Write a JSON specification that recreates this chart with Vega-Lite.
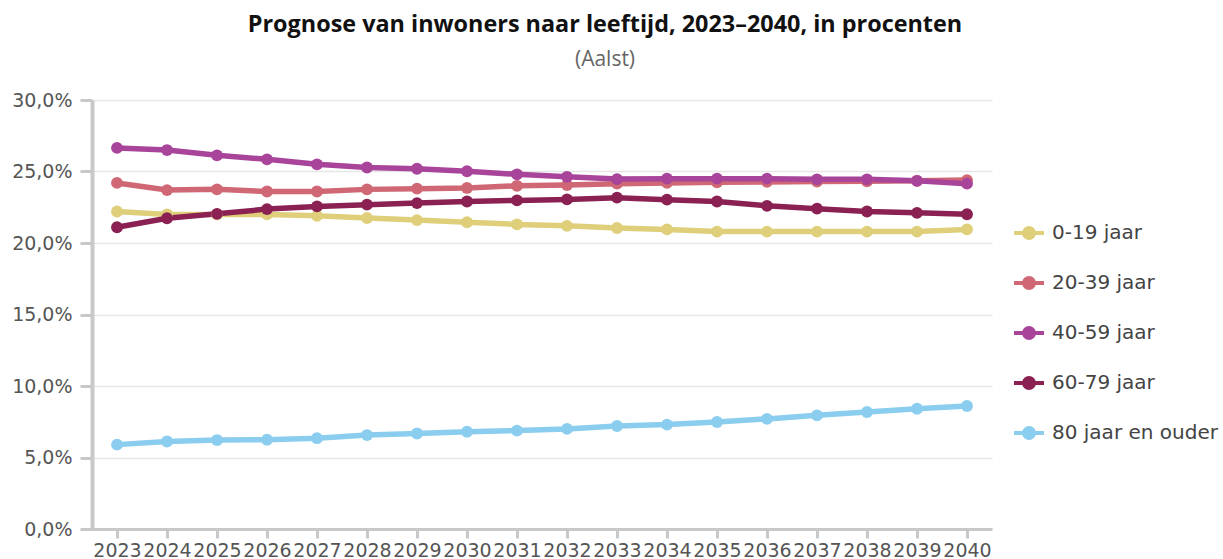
{
  "$schema": "https://vega.github.io/schema/vega-lite/v6.json",
  "width": 900,
  "height": 429,
  "autosize": {"type": "none"},
  "padding": {"left": 92, "top": 100, "right": 231, "bottom": 30},
  "background": "white",
  "title": {
    "text": "Prognose van inwoners naar leeftijd, 2023–2040, in procenten",
    "subtitle": "(Aalst)",
    "anchor": "middle",
    "dx": 63,
    "offset": 20,
    "font": "Open Sans",
    "fontSize": 23.4,
    "fontWeight": "bold",
    "color": "#111111",
    "subtitleFont": "Open Sans",
    "subtitleFontSize": 21,
    "subtitleColor": "#666666",
    "subtitlePadding": 12
  },
  "config": {
    "view": {"stroke": null},
    "axis": {"labelFont": "DejaVu Sans", "labelColor": "#555555", "titleFont": "DejaVu Sans"},
    "legend": {"labelFont": "DejaVu Sans"}
  },
  "data": {
    "values": [
      {"year": "2023", "group": "0-19 jaar", "value": 22.2},
      {"year": "2024", "group": "0-19 jaar", "value": 22.0},
      {"year": "2025", "group": "0-19 jaar", "value": 22.0},
      {"year": "2026", "group": "0-19 jaar", "value": 22.0},
      {"year": "2027", "group": "0-19 jaar", "value": 21.9},
      {"year": "2028", "group": "0-19 jaar", "value": 21.75},
      {"year": "2029", "group": "0-19 jaar", "value": 21.6},
      {"year": "2030", "group": "0-19 jaar", "value": 21.45},
      {"year": "2031", "group": "0-19 jaar", "value": 21.3},
      {"year": "2032", "group": "0-19 jaar", "value": 21.2},
      {"year": "2033", "group": "0-19 jaar", "value": 21.05},
      {"year": "2034", "group": "0-19 jaar", "value": 20.95},
      {"year": "2035", "group": "0-19 jaar", "value": 20.8},
      {"year": "2036", "group": "0-19 jaar", "value": 20.8},
      {"year": "2037", "group": "0-19 jaar", "value": 20.8},
      {"year": "2038", "group": "0-19 jaar", "value": 20.8},
      {"year": "2039", "group": "0-19 jaar", "value": 20.8},
      {"year": "2040", "group": "0-19 jaar", "value": 20.95},
      {"year": "2023", "group": "20-39 jaar", "value": 24.2},
      {"year": "2024", "group": "20-39 jaar", "value": 23.7},
      {"year": "2025", "group": "20-39 jaar", "value": 23.75},
      {"year": "2026", "group": "20-39 jaar", "value": 23.6},
      {"year": "2027", "group": "20-39 jaar", "value": 23.6},
      {"year": "2028", "group": "20-39 jaar", "value": 23.75},
      {"year": "2029", "group": "20-39 jaar", "value": 23.8},
      {"year": "2030", "group": "20-39 jaar", "value": 23.85},
      {"year": "2031", "group": "20-39 jaar", "value": 24.0},
      {"year": "2032", "group": "20-39 jaar", "value": 24.05},
      {"year": "2033", "group": "20-39 jaar", "value": 24.15},
      {"year": "2034", "group": "20-39 jaar", "value": 24.2},
      {"year": "2035", "group": "20-39 jaar", "value": 24.25},
      {"year": "2036", "group": "20-39 jaar", "value": 24.27},
      {"year": "2037", "group": "20-39 jaar", "value": 24.3},
      {"year": "2038", "group": "20-39 jaar", "value": 24.32},
      {"year": "2039", "group": "20-39 jaar", "value": 24.35},
      {"year": "2040", "group": "20-39 jaar", "value": 24.4},
      {"year": "2023", "group": "40-59 jaar", "value": 26.65},
      {"year": "2024", "group": "40-59 jaar", "value": 26.5},
      {"year": "2025", "group": "40-59 jaar", "value": 26.13},
      {"year": "2026", "group": "40-59 jaar", "value": 25.85},
      {"year": "2027", "group": "40-59 jaar", "value": 25.5},
      {"year": "2028", "group": "40-59 jaar", "value": 25.28},
      {"year": "2029", "group": "40-59 jaar", "value": 25.19},
      {"year": "2030", "group": "40-59 jaar", "value": 25.02},
      {"year": "2031", "group": "40-59 jaar", "value": 24.8},
      {"year": "2032", "group": "40-59 jaar", "value": 24.63},
      {"year": "2033", "group": "40-59 jaar", "value": 24.47},
      {"year": "2034", "group": "40-59 jaar", "value": 24.5},
      {"year": "2035", "group": "40-59 jaar", "value": 24.5},
      {"year": "2036", "group": "40-59 jaar", "value": 24.5},
      {"year": "2037", "group": "40-59 jaar", "value": 24.45},
      {"year": "2038", "group": "40-59 jaar", "value": 24.45},
      {"year": "2039", "group": "40-59 jaar", "value": 24.35},
      {"year": "2040", "group": "40-59 jaar", "value": 24.15},
      {"year": "2023", "group": "60-79 jaar", "value": 21.1},
      {"year": "2024", "group": "60-79 jaar", "value": 21.73},
      {"year": "2025", "group": "60-79 jaar", "value": 22.04},
      {"year": "2026", "group": "60-79 jaar", "value": 22.37},
      {"year": "2027", "group": "60-79 jaar", "value": 22.56},
      {"year": "2028", "group": "60-79 jaar", "value": 22.68},
      {"year": "2029", "group": "60-79 jaar", "value": 22.79},
      {"year": "2030", "group": "60-79 jaar", "value": 22.9},
      {"year": "2031", "group": "60-79 jaar", "value": 22.98},
      {"year": "2032", "group": "60-79 jaar", "value": 23.05},
      {"year": "2033", "group": "60-79 jaar", "value": 23.17},
      {"year": "2034", "group": "60-79 jaar", "value": 23.03},
      {"year": "2035", "group": "60-79 jaar", "value": 22.9},
      {"year": "2036", "group": "60-79 jaar", "value": 22.6},
      {"year": "2037", "group": "60-79 jaar", "value": 22.4},
      {"year": "2038", "group": "60-79 jaar", "value": 22.2},
      {"year": "2039", "group": "60-79 jaar", "value": 22.11},
      {"year": "2040", "group": "60-79 jaar", "value": 22.01},
      {"year": "2023", "group": "80 jaar en ouder", "value": 5.9},
      {"year": "2024", "group": "80 jaar en ouder", "value": 6.12},
      {"year": "2025", "group": "80 jaar en ouder", "value": 6.22},
      {"year": "2026", "group": "80 jaar en ouder", "value": 6.24},
      {"year": "2027", "group": "80 jaar en ouder", "value": 6.35},
      {"year": "2028", "group": "80 jaar en ouder", "value": 6.57},
      {"year": "2029", "group": "80 jaar en ouder", "value": 6.68},
      {"year": "2030", "group": "80 jaar en ouder", "value": 6.8},
      {"year": "2031", "group": "80 jaar en ouder", "value": 6.88},
      {"year": "2032", "group": "80 jaar en ouder", "value": 7.0},
      {"year": "2033", "group": "80 jaar en ouder", "value": 7.2},
      {"year": "2034", "group": "80 jaar en ouder", "value": 7.3},
      {"year": "2035", "group": "80 jaar en ouder", "value": 7.48},
      {"year": "2036", "group": "80 jaar en ouder", "value": 7.7},
      {"year": "2037", "group": "80 jaar en ouder", "value": 7.95},
      {"year": "2038", "group": "80 jaar en ouder", "value": 8.18},
      {"year": "2039", "group": "80 jaar en ouder", "value": 8.41},
      {"year": "2040", "group": "80 jaar en ouder", "value": 8.6}
    ]
  },
  "encoding": {
    "x": {
      "field": "year",
      "type": "ordinal",
      "scale": {"type": "point", "padding": 0.5},
      "axis": {
        "title": null,
        "labelAngle": 0,
        "labelFontSize": 19,
        "labelOverlap": false,
        "labelPadding": 3,
        "domainColor": "#c8c8c8",
        "domainWidth": 3,
        "tickColor": "#c8c8c8",
        "tickWidth": 3,
        "tickSize": 9,
        "grid": false
      }
    },
    "y": {
      "field": "value",
      "type": "quantitative",
      "scale": {"domain": [0, 30]},
      "axis": {
        "title": null,
        "values": [0, 5, 10, 15, 20, 25, 30],
        "labelExpr": "replace(format(datum.value, '.1f'), '.', ',') + '%'",
        "labelFontSize": 19,
        "labelPadding": 8,
        "domainColor": "#c8c8c8",
        "domainWidth": 4,
        "tickColor": "#c8c8c8",
        "tickWidth": 3,
        "tickSize": 12,
        "gridColor": "#e6e6e6",
        "gridWidth": 1.5
      }
    },
    "color": {
      "field": "group",
      "type": "nominal",
      "scale": {
        "domain": ["0-19 jaar", "20-39 jaar", "40-59 jaar", "60-79 jaar", "80 jaar en ouder"],
        "range": ["#dfcf7a", "#cf6874", "#a8449a", "#8a2152", "#8bcdee"]
      },
      "legend": {
        "title": null,
        "orient": "none",
        "legendX": 920,
        "legendY": 116,
        "symbolType": "M-1,0L1,0M-0.33,0A0.33,0.33,0,1,0,0.33,0A0.33,0.33,0,1,0,-0.33,0Z",
        "symbolSize": 900,
        "symbolStrokeWidth": 4,
        "labelFontSize": 20,
        "labelColor": "#444444",
        "labelOffset": 6,
        "labelLimit": 400,
        "rowPadding": 20,
        "encode": {
          "symbols": {"update": {"fill": {"scale": "color", "field": "value"}, "stroke": {"scale": "color", "field": "value"}, "opacity": {"value": 1}}}
        }
      }
    }
  },
  "layer": [
    {"mark": {"type": "line", "strokeWidth": 5.5}},
    {"mark": {"type": "point", "filled": true, "size": 140, "opacity": 1}}
  ]
}
